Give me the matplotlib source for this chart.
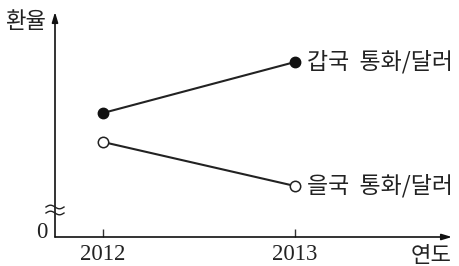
import matplotlib
matplotlib.use("Agg")
import matplotlib.pyplot as plt
import numpy as np

years = [2012, 2013]
year_labels = ["2012", "2013"]
gap_rate = [124, 175]   # 갑국 통화/달러
eul_rate = [95, 51]     # 을국 통화/달러
series_names = ["갑국  통화/달러", "을국  통화/달러"]

KR = ["Noto Sans CJK KR", "DejaVu Sans"]
SERIF = ["Liberation Serif", "DejaVu Serif"]

W, H = 459, 266
fig = plt.figure(figsize=(W / 100, H / 100), dpi=100)
x0, x1, y0, y1 = 55, 452, 237, 12
ax = fig.add_axes([x0 / W, (H - y0) / H, (x1 - x0) / W, (y0 - y1) / H])
ax.set_xlim(2012 - 48 / 192, 2013 + 157 / 192)
ax.set_ylim(0, 225)
for s in ax.spines.values():
    s.set_visible(False)
ax.set_yticks([])
ax.set_xticks(years)
ax.set_xticklabels(year_labels, fontfamily=SERIF, fontsize=16.5, color="#222222")
ax.tick_params(axis="x", direction="in", length=6, width=1, pad=5, color="#333333")

# axes with arrows
arr = dict(arrowstyle="-|>,head_length=0.6,head_width=0.18", color="#111111", lw=1.2,
           shrinkA=0, shrinkB=0)
ax.annotate("", xy=(0, 1.0), xytext=(0, 0), xycoords="axes fraction", arrowprops=arr,
            annotation_clip=False)
ax.annotate("", xy=(1.0, 0), xytext=(0, 0), xycoords="axes fraction", arrowprops=arr,
            annotation_clip=False)

# data lines
ax.plot(years, gap_rate, color="#222222", lw=1.5, marker="o", markersize=7.5,
        markerfacecolor="#111111", markeredgecolor="#111111", clip_on=False, zorder=3)
ax.plot(years, eul_rate, color="#222222", lw=1.5, marker="o", markersize=7.5,
        markerfacecolor="white", markeredgecolor="#222222", markeredgewidth=1.1,
        clip_on=False, zorder=3)

ax.text(2013 + 12 / 192, gap_rate[1], series_names[0], fontfamily=KR, fontsize=16.5,
        va="center", ha="left", color="#222222")
ax.text(2013 + 12 / 192, eul_rate[1], series_names[1], fontfamily=KR, fontsize=16.5,
        va="center", ha="left", color="#222222")

# axis labels
fig.text(26 / W, (H - 21) / H, "환율", fontfamily=KR, fontsize=16, ha="center",
         va="center", color="#222222")
fig.text(431 / W, (H - 255) / H, "연도", fontfamily=KR, fontsize=16, ha="center",
         va="center", color="#222222")
fig.text(42 / W, (H - 232) / H, "0", fontfamily=SERIF, fontsize=16.5, ha="center",
         va="center", color="#222222")

# break mark (two small waves across the y axis)
t = np.linspace(-1, 1, 40)
for yc in (207, 213):
    xs = (55 + 9 * t) / W
    ys = (H - (yc + 1.8 * np.sin(np.pi * t))) / H
    fig.add_artist(plt.Line2D(xs, ys, color="#222222", lw=1.0))

fig.savefig("out.png", dpi=100)
